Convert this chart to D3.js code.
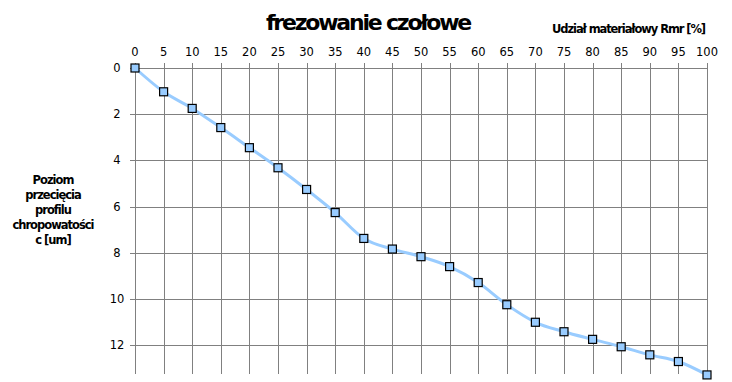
<!DOCTYPE html>
<html>
<head>
<meta charset="utf-8">
<script src="https://cdn.jsdelivr.net/npm/d3@7"></script>
<style>
  body { margin: 0; background: #fff; }
  text { font-family: "DejaVu Sans", sans-serif; }
</style>
</head>
<body>
<svg width="732" height="382"></svg>
<script>
// Rmr [%] vs poziom przecięcia c [um]
const rmr = [0, 5, 10, 15, 20, 25, 30, 35, 40, 45, 50, 55, 60, 65, 70, 75, 80, 85, 90, 95, 100]
const depth = [0, 1.03, 1.75, 2.58, 3.45, 4.32, 5.26, 6.26, 7.38, 7.84, 8.17, 8.6, 9.29, 10.25, 11.01, 11.42, 11.75, 12.07, 12.42, 12.71, 13.29]
const xTicks = d3.range(0, 101, 5)
const yTicks = [0, 2, 4, 6, 8, 10, 12]

const svg = d3.select("svg")

const margin = { top: 68, left: 135, right: 25, bottom: 8 }
const width = +svg.attr("width")
const height = +svg.attr("height")

const x = d3.scaleLinear().domain([0, 100]).range([margin.left, width - margin.right])
const y = d3.scaleLinear().domain([0, 13.25]).range([margin.top, height - margin.bottom])

const grid = svg.append("g")

// vertical grid (+ little tick above)
grid.selectAll("line.v")
  .data(xTicks)
  .join("line")
  .attr("x1", d => Math.round(x(d)) + 0.5)
  .attr("x2", d => Math.round(x(d)) + 0.5)
  .attr("y1", margin.top - 5)
  .attr("y2", y(13.25))
  .attr("stroke", "#808080")

// horizontal grid (+ little tick on the left)
grid.selectAll("line.h")
  .data(yTicks)
  .join("line")
  .attr("x1", margin.left - 5)
  .attr("x2", x(100))
  .attr("y1", d => Math.round(y(d)) + 0.5)
  .attr("y2", d => Math.round(y(d)) + 0.5)
  .attr("stroke", "#808080")

// tick labels
svg.append("g").selectAll("text")
  .data(xTicks)
  .join("text")
  .attr("x", d => x(d))
  .attr("y", 56)
  .attr("text-anchor", "middle")
  .attr("font-size", 11.5)
  .text(d => d)

svg.append("g").selectAll("text")
  .data(yTicks)
  .join("text")
  .attr("x", 117)
  .attr("y", d => y(d) + 4)
  .attr("text-anchor", "middle")
  .attr("font-size", 11.5)
  .text(d => d)

// smoothed line
const line = d3.line()
  .x((d, i) => x(rmr[i]))
  .y(d => y(d))
  .curve(d3.curveCatmullRom.alpha(0))

svg.append("path")
  .datum(depth)
  .attr("d", line)
  .attr("fill", "none")
  .attr("stroke", "#99ccff")
  .attr("stroke-width", 3)

// square markers
svg.append("g").selectAll("rect")
  .data(depth)
  .join("rect")
  .attr("x", (d, i) => x(rmr[i]) - 4)
  .attr("y", d => y(d) - 4)
  .attr("width", 8)
  .attr("height", 8)
  .attr("fill", "#99ccff")
  .attr("stroke", "#000")
  .attr("stroke-width", 1.2)

// titles
svg.append("text")
  .attr("x", 368)
  .attr("y", 30)
  .attr("text-anchor", "middle")
  .attr("font-size", 22)
  .attr("font-weight", "bold")
  .attr("letter-spacing", -2.2)
  .text("frezowanie czołowe")

svg.append("text")
  .attr("x", 705)
  .attr("y", 33)
  .attr("text-anchor", "end")
  .attr("font-size", 11.5)
  .attr("font-weight", "bold")
  .attr("letter-spacing", -1.1)
  .text("Udział materiałowy Rmr [%]")

const yLabel = ["Poziom", "przecięcia", "profilu", "chropowatości", "c [um]"]
svg.append("text")
  .attr("text-anchor", "middle")
  .attr("font-size", 11.5)
  .attr("font-weight", "bold")
  .attr("letter-spacing", -1)
  .selectAll("tspan")
  .data(yLabel)
  .join("tspan")
  .attr("x", 53)
  .attr("y", (d, i) => 184 + i * 15)
  .text(d => d)
</script>
</body>
</html>
